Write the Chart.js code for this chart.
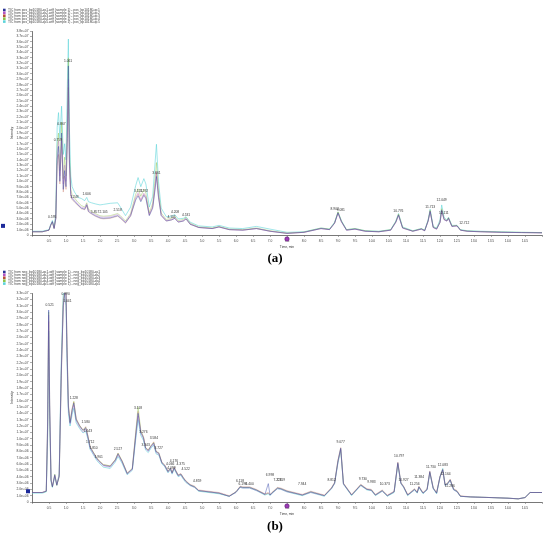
<!DOCTYPE html>
<html lang="en">
<head>
<meta charset="UTF-8">
<title>TIC chromatograms</title>
<script src="https://cdn.jsdelivr.net/npm/chart.js"></script>
<style>
    body { margin: 0; width: 550px; height: 535px; background: #fff; position: relative; overflow: hidden; }
    canvas { position: absolute; left: 0; }
    #chartA { top: 0; }
    #chartB { top: 262px; }
    .panel-tag { position: absolute; left: 0; width: 550px; text-align: center; font: bold 13px "Liberation Serif", "DejaVu Serif", serif; color: #000; }
</style>
</head>
<body>
<canvas id="chartA" width="550" height="262"></canvas>
<div class="panel-tag" style="top:250px">(a)</div>
<canvas id="chartB" width="550" height="273"></canvas>
<div class="panel-tag" style="top:518px">(b)</div>

<script>
    // intensities are in units of 1e6 counts, time in minutes
    const seriesColors = ['#2a3596', '#b454c4', '#b8503a', '#8cc44a', '#5ed4da'];
    // the traces overlap, so they are drawn a little see-through
    const lineColors = ['rgba(52,70,170,0.65)', 'rgba(180,84,196,0.45)', 'rgba(184,80,58,0.4)',
        'rgba(140,196,74,0.6)', 'rgba(94,212,218,0.85)'];

    // ---- (a) positive mode ----
    const aLabels = [1, 2, 3, 4, 5].map(n => `TIC from pos_bp10180-qc${n}.wiff (sample 1) - pos_bp10180-qc${n}`);
    const aTimes = [0, 0.3, 0.5, 0.55, 0.6, 0.65, 0.7, 0.74, 0.78, 0.82,
        0.87, 0.92, 0.96, 1.0, 1.04, 1.07, 1.1, 1.14, 1.18, 1.25,
        1.35, 1.45, 1.55, 1.61, 1.66, 1.75, 1.86, 2.0, 2.1, 2.3,
        2.52, 2.6, 2.75, 2.9, 3.05, 3.12, 3.2, 3.29, 3.35, 3.45,
        3.55, 3.62, 3.66, 3.72, 3.8, 3.95, 4.1, 4.2, 4.3, 4.45,
        4.53, 4.65, 4.9, 5.3, 5.5, 5.8, 6.2, 6.6, 7.0, 7.5,
        8.0, 8.5, 8.75, 8.9, 9.0, 9.1, 9.25, 9.5, 9.8, 10.2,
        10.55, 10.7, 10.78, 10.9, 11.2, 11.45, 11.55, 11.65, 11.71, 11.8,
        11.9, 12.0, 12.05, 12.12, 12.2, 12.25, 12.35, 12.5, 12.6, 12.8,
        13.2, 13.8, 14.4, 15.0];
    const aQc1 = [0.6, 0.6, 0.9, 1.8, 2.5, 1.2, 3.0, 14.0, 16.5, 10.0,
        19.0, 8.5, 12.0, 9.0, 18.0, 31.5, 14.0, 7.5, 6.8, 6.3,
        5.6, 5.0, 4.8, 5.6, 4.4, 4.0, 3.6, 3.2, 3.1, 3.2,
        3.6, 3.2, 2.3, 3.6, 6.5, 7.3, 6.2, 7.4, 6.8, 3.6,
        5.0, 8.5, 10.9, 7.0, 3.6, 2.6, 2.8, 3.1, 2.4, 2.6,
        3.0, 2.0, 1.4, 1.2, 1.5, 1.0, 0.9, 1.2, 0.7, 0.3,
        0.5, 1.2, 1.0, 2.2, 4.1, 2.5, 0.9, 1.1, 0.7, 0.6,
        0.9, 2.4, 3.7, 1.3, 0.7, 1.1, 0.8, 2.6, 4.4, 1.4,
        1.1, 2.3, 4.6, 2.9, 2.6, 3.1, 1.6, 1.7, 0.9, 0.7,
        0.6, 0.5, 0.45, 0.4];
    const aQc2 = [0.6, 0.6, 0.9, 1.9, 2.4, 1.2, 3.2, 15.5, 17.5, 11.0,
        17.5, 9.5, 13.0, 10.0, 20.0, 29.0, 13.0, 7.8, 7.0, 6.5,
        5.8, 5.2, 5.0, 5.8, 4.6, 4.2, 3.8, 3.4, 3.3, 3.4,
        3.8, 3.4, 2.4, 3.8, 7.0, 7.9, 6.6, 7.8, 7.2, 3.8,
        5.4, 9.2, 11.8, 7.5, 3.8, 2.7, 2.9, 3.2, 2.5, 2.7,
        3.1, 2.1, 1.4, 1.2, 1.5, 1.0, 0.9, 1.2, 0.7, 0.3,
        0.5, 1.2, 1.0, 2.2, 4.0, 2.4, 0.9, 1.1, 0.7, 0.6,
        0.9, 2.3, 3.6, 1.3, 0.7, 1.1, 0.8, 2.5, 4.3, 1.4,
        1.1, 2.4, 4.4, 2.8, 2.6, 3.0, 1.6, 1.7, 0.9, 0.7,
        0.6, 0.5, 0.45, 0.4];
    const aQc3 = [0.6, 0.6, 0.9, 1.8, 2.5, 1.3, 3.1, 13.0, 15.0, 9.5,
        18.0, 8.0, 11.0, 8.5, 17.0, 27.5, 13.5, 7.2, 6.6, 6.1,
        5.5, 4.9, 4.7, 5.4, 4.3, 3.9, 3.5, 3.1, 3.0, 3.1,
        3.5, 3.1, 2.2, 3.5, 6.8, 7.6, 6.4, 7.6, 7.0, 3.7,
        5.2, 8.9, 11.5, 7.2, 3.7, 2.6, 2.8, 3.1, 2.4, 2.6,
        3.0, 2.0, 1.4, 1.2, 1.5, 1.0, 0.9, 1.2, 0.7, 0.3,
        0.5, 1.2, 1.0, 2.2, 4.2, 2.5, 0.9, 1.1, 0.7, 0.6,
        0.9, 2.4, 3.8, 1.3, 0.7, 1.1, 0.8, 2.6, 4.5, 1.4,
        1.1, 2.3, 4.7, 2.9, 2.6, 3.2, 1.6, 1.7, 0.9, 0.7,
        0.6, 0.5, 0.45, 0.4];
    const aQc4 = [0.6, 0.6, 0.9, 1.8, 2.4, 1.2, 3.3, 16.5, 19.0, 12.0,
        21.0, 10.5, 14.5, 11.0, 22.0, 33.0, 15.5, 8.5, 7.5, 6.9,
        6.1, 5.5, 5.2, 6.0, 4.8, 4.4, 4.0, 3.6, 3.5, 3.6,
        4.0, 3.6, 2.6, 4.0, 7.6, 8.6, 7.2, 8.5, 7.8, 4.1,
        5.9, 10.5, 13.5, 8.3, 4.1, 2.9, 3.1, 3.4, 2.7, 2.9,
        3.3, 2.2, 1.5, 1.3, 1.6, 1.1, 1.0, 1.3, 0.8, 0.35,
        0.55, 1.3, 1.1, 2.3, 4.3, 2.6, 1.0, 1.2, 0.8, 0.65,
        1.0, 2.5, 3.9, 1.4, 0.75, 1.2, 0.85, 2.7, 4.6, 1.5,
        1.2, 2.5, 4.9, 3.0, 2.7, 3.2, 1.7, 1.8, 0.95, 0.75,
        0.65, 0.55, 0.5, 0.45];
    const aQc5 = [0.7, 0.7, 1.0, 2.0, 2.7, 1.5, 4.0, 20.0, 22.8, 18.0,
        24.0, 15.0, 17.0, 14.0, 28.0, 36.5, 20.0, 11.0, 9.0, 8.0,
        7.0, 6.8, 6.4, 7.0, 6.2, 6.0, 5.8, 5.6, 5.7, 5.9,
        6.0, 5.2, 3.6, 5.2, 9.2, 10.7, 9.0, 10.5, 9.5, 5.2,
        7.2, 13.5, 16.9, 10.0, 5.0, 3.4, 3.5, 3.8, 3.0, 3.1,
        3.4, 2.4, 1.7, 1.5, 1.8, 1.3, 1.2, 1.6, 1.1, 0.5,
        0.6, 1.3, 1.1, 2.4, 4.3, 2.7, 1.0, 1.2, 0.8, 0.7,
        1.0, 2.6, 4.0, 1.5, 0.8, 1.2, 0.9, 2.8, 4.8, 1.6,
        1.3, 2.8, 5.6, 3.3, 2.8, 3.3, 1.8, 1.8, 1.0, 0.8,
        0.7, 0.6, 0.5, 0.45];
    const aPeakNames = ['0.595', '0.759', '0.867', '1.061', '1.249', '1.606', '1.857', '2.105', '2.518',
        '3.121', '3.292', '3.661', '4.105', '4.208', '4.531', '8.902', '9.081', '10.776', '11.713',
        '12.049', '12.111', '12.712'];
    const aPeakHeights = [3.0, 17.3, 20.3, 32.0, 6.8, 7.3, 3.9, 4.0, 4.4,
        7.8, 7.9, 11.3, 3.0, 3.9, 3.4, 4.6, 4.3, 4.1, 4.9,
        6.2, 3.8, 2.0];

    // ---- (b) negative mode ----
    const bLabels = [1, 2, 3, 4, 5].map(n => `TIC from neg_bp10180-qc${n}.wiff (sample 1) - neg_bp10180-qc${n}`);
    const bTimes = [0, 0.3, 0.42, 0.46, 0.49, 0.52, 0.56, 0.6, 0.67, 0.73,
        0.8, 0.86, 0.92, 0.97, 1.0, 1.03, 1.07, 1.12, 1.18, 1.23,
        1.3, 1.4, 1.5, 1.58, 1.64, 1.71, 1.8, 1.9, 1.96, 2.1,
        2.3, 2.45, 2.53, 2.65, 2.8, 2.95, 3.05, 3.12, 3.2, 3.28,
        3.34, 3.42, 3.5, 3.58, 3.65, 3.73, 3.82, 3.9, 4.0, 4.07,
        4.12, 4.18, 4.3, 4.38, 4.45, 4.52, 4.65, 4.78, 4.9, 5.2,
        5.5, 5.8, 6.0, 6.12, 6.2, 6.4, 6.6, 6.85, 6.95, 7.0,
        7.05, 7.22, 7.32, 7.5, 7.8, 7.95, 8.2, 8.6, 8.81, 8.9,
        9.0, 9.08, 9.16, 9.4, 9.67, 9.85, 9.98, 10.1, 10.3, 10.45,
        10.65, 10.76, 10.85, 10.93, 11.05, 11.25, 11.33, 11.38, 11.5, 11.62,
        11.7, 11.8, 11.9, 12.0, 12.08, 12.15, 12.22, 12.3, 12.4, 12.5,
        12.6, 12.9, 13.5, 14.0, 14.3, 14.5, 14.65, 15.0];
    const bQc1 = [1.5, 1.5, 1.7, 12, 30.3, 15, 3.5, 2.4, 4.3, 2.7,
        4.0, 20, 31, 33.3, 33.3, 24, 15, 12.5, 14.5, 15.6,
        13.0, 12.0, 11.3, 11.7, 10.4, 8.6, 7.8, 6.9, 6.5, 5.8,
        5.6, 6.6, 7.6, 6.4, 4.5, 5.2, 10.5, 14.0, 11.0, 10.1,
        8.5, 8.1, 8.8, 9.3, 7.9, 7.7, 6.2, 5.8, 4.8, 5.3,
        4.6, 5.4, 4.2, 4.4, 3.8, 3.3, 2.7, 2.4, 1.8, 1.6,
        1.4, 0.9, 1.6, 2.4, 2.3, 2.3, 1.9, 1.2, 2.9, 1.1,
        1.4, 2.2, 2.1, 1.7, 1.3, 1.1, 1.6, 1.0, 2.2, 3.0,
        6.5, 8.5, 2.9, 1.1, 2.7, 2.0, 1.9, 1.1, 1.8, 1.0,
        1.6, 6.2, 3.0, 2.4, 1.1, 2.0, 1.5, 2.4, 1.4, 2.0,
        4.8, 2.2, 1.4, 4.0, 5.1, 2.7, 2.9, 3.5, 2.0, 1.7,
        0.9, 0.8, 0.7, 0.6, 0.5, 0.7, 1.5, 1.5];
    const bQc2 = [1.5, 1.5, 1.8, 13, 29.5, 16, 3.6, 2.5, 4.1, 2.8,
        4.3, 21, 30.5, 33.5, 32.5, 23, 14.6, 12.3, 14.2, 15.3,
        12.8, 11.8, 11.0, 11.5, 10.2, 8.5, 7.6, 6.8, 6.4, 5.7,
        5.5, 6.5, 7.4, 6.3, 4.4, 5.1, 10.2, 13.6, 10.8, 10.0,
        8.4, 8.0, 8.7, 9.1, 7.8, 7.5, 6.1, 5.7, 4.7, 5.2,
        4.5, 5.3, 4.1, 4.3, 3.7, 3.2, 2.6, 2.3, 1.8, 1.6,
        1.4, 0.9, 1.5, 2.3, 2.2, 2.2, 1.8, 1.2, 1.4, 1.1,
        1.3, 2.1, 2.0, 1.6, 1.3, 1.1, 1.5, 1.0, 2.1, 2.9,
        6.3, 8.3, 2.8, 1.1, 2.6, 2.0, 1.8, 1.1, 1.7, 1.0,
        1.6, 6.0, 2.9, 2.3, 1.1, 1.9, 1.5, 2.3, 1.4, 1.9,
        4.6, 2.1, 1.4, 3.9, 5.0, 2.6, 2.8, 3.4, 1.9, 1.6,
        0.9, 0.8, 0.7, 0.6, 0.5, 0.7, 1.5, 1.5];
    const bQc3 = [1.5, 1.5, 1.7, 11, 28.5, 14, 3.4, 2.4, 4.2, 2.6,
        4.1, 19, 32, 33.5, 33, 25, 15.5, 12.7, 14.8, 15.8,
        13.2, 12.1, 11.4, 11.9, 10.6, 8.8, 7.9, 7.0, 6.6, 5.9,
        5.7, 6.7, 7.7, 6.5, 4.6, 5.3, 10.8, 14.3, 11.2, 10.3,
        8.6, 8.2, 8.9, 9.5, 8.0, 7.8, 6.3, 5.9, 4.9, 5.4,
        4.7, 5.5, 4.3, 4.5, 3.9, 3.4, 2.8, 2.5, 1.9, 1.7,
        1.5, 1.0, 1.6, 2.5, 2.4, 2.4, 2.0, 1.3, 1.5, 1.2,
        1.5, 2.3, 2.2, 1.8, 1.4, 1.2, 1.7, 1.1, 2.3, 3.1,
        6.7, 8.6, 3.0, 1.2, 2.8, 2.1, 2.0, 1.2, 1.9, 1.1,
        1.7, 6.3, 3.1, 2.5, 1.2, 2.1, 1.6, 2.5, 1.5, 2.1,
        4.9, 2.3, 1.5, 4.1, 5.2, 2.8, 3.0, 3.6, 2.1, 1.8,
        1.0, 0.8, 0.7, 0.6, 0.5, 0.7, 1.5, 1.5];
    const bQc4 = [1.5, 1.5, 1.7, 12.5, 30, 15.5, 3.5, 2.4, 4.4, 2.7,
        4.0, 20.5, 31.5, 33.5, 33.2, 24.5, 15.2, 12.6, 14.6, 15.9,
        13.1, 12.1, 11.3, 11.8, 10.5, 8.7, 7.9, 7.0, 6.6, 5.9,
        5.7, 6.7, 7.7, 6.5, 4.5, 5.3, 11.0, 15.0, 11.3, 10.2,
        8.6, 8.2, 8.9, 9.4, 8.0, 7.7, 6.2, 5.8, 4.8, 5.3,
        4.6, 5.4, 4.2, 4.4, 3.8, 3.3, 2.7, 2.4, 1.8, 1.6,
        1.4, 0.9, 1.6, 2.4, 2.3, 2.3, 1.9, 1.2, 1.4, 1.1,
        1.4, 2.2, 2.1, 1.7, 1.3, 1.1, 1.6, 1.0, 2.2, 3.0,
        6.5, 8.4, 2.9, 1.1, 2.7, 2.0, 1.9, 1.1, 1.8, 1.0,
        1.6, 6.1, 3.0, 2.4, 1.1, 2.0, 1.5, 2.4, 1.4, 2.0,
        4.7, 2.2, 1.4, 4.0, 5.0, 2.7, 2.9, 3.5, 2.0, 1.7,
        0.9, 0.8, 0.7, 0.6, 0.5, 0.7, 1.5, 1.5];
    const bQc5 = [1.4, 1.4, 1.6, 10, 27, 13, 3.2, 2.3, 4.0, 2.6,
        4.5, 22, 33.5, 32, 31, 22, 14.0, 12.0, 13.8, 14.8,
        12.5, 11.6, 10.9, 11.2, 10.0, 8.3, 7.5, 6.6, 6.2, 5.5,
        5.3, 6.3, 7.2, 6.1, 4.3, 5.0, 9.8, 13.0, 10.5, 9.7,
        8.2, 7.8, 8.5, 9.0, 7.6, 7.4, 6.0, 5.6, 4.6, 5.1,
        4.4, 5.2, 4.0, 4.2, 3.6, 3.1, 2.6, 2.3, 1.7, 1.5,
        1.3, 0.9, 1.5, 2.3, 2.2, 2.2, 1.8, 1.1, 1.3, 1.0,
        1.3, 2.1, 2.0, 1.6, 1.2, 1.0, 1.5, 0.9, 2.1, 2.9,
        6.2, 8.2, 2.8, 1.0, 2.6, 1.9, 1.8, 1.0, 1.7, 0.9,
        1.5, 5.9, 2.9, 2.3, 1.0, 1.9, 1.4, 2.3, 1.3, 1.9,
        4.6, 2.1, 1.3, 3.9, 5.3, 2.6, 2.8, 3.4, 1.9, 1.6,
        0.9, 0.8, 0.7, 0.6, 0.5, 0.7, 1.5, 1.5];
    const bPeakNames = ['0.521', '0.990', '1.041', '1.228', '1.580', '1.643', '1.712', '1.810', '1.961',
        '2.527', '3.118', '3.276', '3.343', '3.584', '3.727', '4.066', '4.099', '4.176', '4.375',
        '4.522', '4.859', '6.118', '6.198', '6.400', '6.998', '7.223', '7.319', '7.944', '8.812',
        '9.077', '9.730', '9.983', '10.373', '10.797', '10.927', '11.256', '11.384', '11.730',
        '12.083', '12.164', '12.286'];
    const bPeakHeights = [30.8, 32.6, 31.4, 16.2, 12.3, 10.9, 9.2, 8.3, 6.9,
        8.1, 14.6, 10.7, 8.7, 9.8, 8.2, 5.8, 5.1, 6.2, 5.7,
        4.9, 3.0, 3.0, 2.5, 2.6, 4.0, 3.2, 3.2, 2.6, 3.2,
        9.2, 3.3, 2.9, 2.5, 7.0, 3.2, 2.6, 3.7, 5.3,
        5.6, 4.2, 2.3];

    const tinyFont = '"Liberation Sans", Arial, sans-serif';

    function sciLabel(v) {
        if (v === 0) return '0';
        return (v * 1e6).toExponential(1).replace('e+', 'e+0');
    }

    // legend box, peak labels and cursor markers, like the instrument software draws them
    const decorPlugin = {
        id: 'decor',
        afterDraw(chart, args, opts) {
            const ctx = chart.ctx;
            const xs = chart.scales.x;
            const ys = chart.scales.y;
            const area = chart.chartArea;
            ctx.save();

            ctx.font = '3.3px ' + tinyFont;
            ctx.textBaseline = 'middle';
            ctx.textAlign = 'left';
            chart.data.datasets.forEach((ds, i) => {
                const cy = opts.legendTop + i * 2.9;
                ctx.fillStyle = seriesColors[i];
                ctx.fillRect(3, cy - 1.3, 2.6, 2.6);
                ctx.fillStyle = '#444';
                ctx.fillText(ds.label, 8, cy);
            });

            ctx.textAlign = 'center';
            ctx.textBaseline = 'bottom';
            ctx.fillStyle = '#333';
            opts.peakNames.forEach((name, i) => {
                const px = xs.getPixelForValue(parseFloat(name));
                const py = ys.getPixelForValue(opts.peakHeights[i]);
                ctx.fillText(name, px, py);
            });

            // intensity cursor on the left
            const my = ys.getPixelForValue(opts.cursorY);
            ctx.fillStyle = '#1d2a9a';
            ctx.fillRect(opts.cursorX - 2, my - 2, 4, 4);

            // time cursor under the axis
            const cx = (area.left + area.right) / 2;
            const cy = area.bottom + 4;
            ctx.beginPath();
            ctx.arc(cx, cy, 2.2, 0, Math.PI * 2);
            ctx.fillStyle = '#9c3db5';
            ctx.fill();
            ctx.lineWidth = 0.6;
            ctx.strokeStyle = '#5a1670';
            ctx.stroke();
            ctx.restore();
        }
    };

    function makeChart(canvasId, times, series, labels, yMax, pad, decor) {
        const datasets = series.map((vals, i) => ({
            label: labels[i],
            data: times.map((t, k) => ({ x: t, y: vals[k] })),
            borderColor: lineColors[i],
            borderWidth: 0.7,
            pointRadius: 0,
            tension: 0,
            fill: false
        }));
        return new Chart(document.getElementById(canvasId), {
            type: 'line',
            data: { datasets: datasets },
            options: {
                responsive: false,
                animation: false,
                events: [],
                layout: { padding: pad },
                plugins: {
                    legend: { display: false },
                    tooltip: { enabled: false },
                    decor: decor
                },
                scales: {
                    x: {
                        type: 'linear',
                        min: 0,
                        max: 15,
                        afterFit: s => { s.height = 16; },
                        grid: { drawOnChartArea: false, tickLength: 2, color: '#777', lineWidth: 0.6 },
                        border: { color: '#555', width: 0.8 },
                        ticks: {
                            stepSize: 0.5,
                            autoSkip: false,
                            maxRotation: 0,
                            padding: 2,
                            color: '#444',
                            font: { size: 3.3, family: tinyFont },
                            callback: v => (v === 0 || v === 15) ? '' : v.toFixed(1)
                        },
                        title: {
                            display: true,
                            text: 'Time, min',
                            color: '#333',
                            padding: { top: 0, bottom: 2 },
                            font: { size: 3.3, family: tinyFont }
                        }
                    },
                    y: {
                        min: 0,
                        max: yMax,
                        afterFit: s => { s.width = 30; },
                        grid: { drawOnChartArea: false, tickLength: 2, color: '#777', lineWidth: 0.6 },
                        border: { color: '#555', width: 0.8 },
                        ticks: {
                            stepSize: 1,
                            autoSkip: false,
                            padding: 1.5,
                            color: '#444',
                            font: { size: 3.3, family: tinyFont },
                            callback: v => sciLabel(v)
                        },
                        title: {
                            display: true,
                            text: 'Intensity',
                            color: '#333',
                            padding: { top: 8, bottom: 0 },
                            font: { size: 3.3, family: tinyFont }
                        }
                    }
                }
            },
            plugins: [decorPlugin]
        });
    }

    makeChart('chartA', aTimes, [aQc1, aQc2, aQc3, aQc4, aQc5], aLabels, 38,
        { left: 2, right: 8, top: 31, bottom: 11 },
        { legendTop: 10, peakNames: aPeakNames, peakHeights: aPeakHeights, cursorY: 1.7, cursorX: 3 });

    makeChart('chartB', bTimes, [bQc1, bQc2, bQc3, bQc4, bQc5], bLabels, 33,
        { left: 2, right: 8, top: 31, bottom: 17 },
        { legendTop: 10, peakNames: bPeakNames, peakHeights: bPeakHeights, cursorY: 1.7, cursorX: 28 });
</script>
</body>
</html>
